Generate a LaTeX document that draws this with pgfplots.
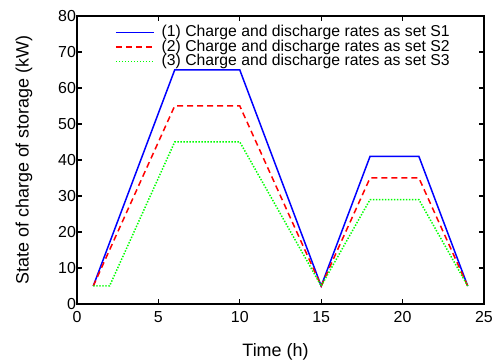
\documentclass[border=0pt]{standalone}
\usepackage{fontspec}
\setmainfont{Liberation Sans}
\usepackage{pgfplots}
\pgfplotsset{compat=1.18}
\begin{document}
\begin{tikzpicture}
\begin{axis}[
  name=ax,
  scale only axis,
  width=407bp, height=288bp,
  xmin=0, xmax=25, ymin=0, ymax=80,
  xtick={0,5,10,15,20,25},
  ytick={0,10,20,30,40,50,60,70,80},
  tick align=inside,
  major tick length=5bp,
  axis line style={line width=1.6bp},
  every tick/.style={black, line width=1.3bp},
  /pgf/number format/assume math mode=true,
  tick label style={font=\fontsize{16}{18}\selectfont},
  yticklabel style={xshift=2.5bp},
  xticklabel style={yshift=-4bp},
  label style={font=\fontsize{18}{20}\selectfont},
  xlabel={Time (h)},
  ylabel={State of charge of storage (kW)},
  xlabel style={at={(axis description cs:0.5,0)}, anchor=center, yshift=-48bp, xshift=-5bp},
  ylabel style={at={(axis description cs:0,0.5)}, anchor=center, yshift=53bp},
  legend style={draw=none, fill=none, inner sep=0pt, at={(rel axis cs:0.0934,0.967)}, anchor=north west,
    font=\fontsize{15.8}{16}\selectfont,
    nodes={inner sep=0pt, text height=11bp, text depth=3bp}, row sep=0.5bp, column sep=7bp},
  legend cell align=left,
  legend image code/.code={\draw[#1] (0bp,0bp) -- (38bp,0bp);},
]
\addplot[color={rgb,255:red,0;green,0;blue,255}, line width=1.5bp] coordinates {
  (1,5) (6,65) (10,65) (15,5) (18,41) (21,41) (24,5)};
\addlegendentry{(1) Charge and discharge rates as set S1}
\addplot[color={rgb,255:red,255;green,0;blue,0}, line width=1.5bp, dash pattern=on 6bp off 4bp] coordinates {
  (1,5) (6,55) (10,55) (15,5) (18,35) (21,35) (24,5)};
\addlegendentry{(2) Charge and discharge rates as set S2}
\addplot[color={rgb,255:red,0;green,255;blue,0}, line width=1.5bp, dash pattern=on 1.4bp off 1.6bp] coordinates {
  (1,5) (2,5) (6,45) (10,45) (15,5) (18,29) (21,29) (24,5)};
\addlegendentry{(3) Charge and discharge rates as set S3}
\end{axis}
\pgfresetboundingbox
\path[use as bounding box] ([xshift=-77bp,yshift=-59bp]ax.south west) rectangle ([xshift=8bp,yshift=16bp]ax.north east);
\end{tikzpicture}
\end{document}
